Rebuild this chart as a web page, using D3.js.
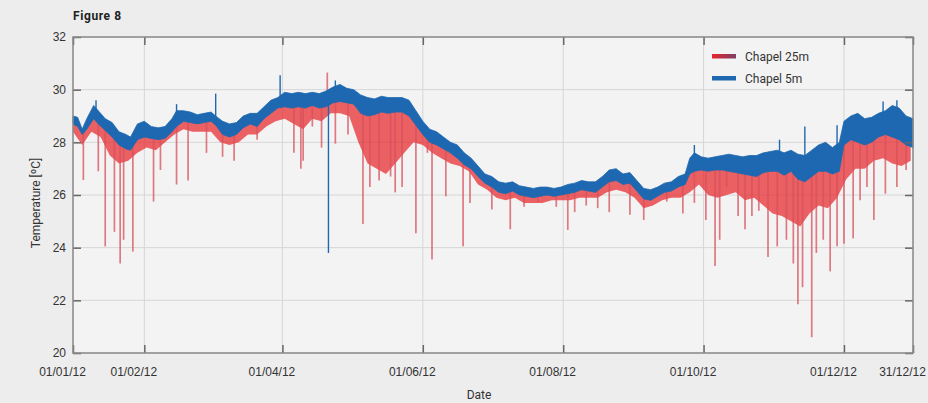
<!DOCTYPE html>
<html>
<head>
<meta charset="utf-8">
<script src="https://cdn.jsdelivr.net/npm/d3@7"></script>
<style>
  body { margin: 0; background: #ededed; font-family: Roboto, "Noto Sans", sans-serif; }
  svg text { fill: #333; }
</style>
</head>
<body>
<div id="chart"></div>
<script>
// ── Data (day = days since 01/01/12) ──

const xTickDays = [0, 31, 91, 152, 213, 274, 335, 365];
const xTickLabels = ["01/01/12", "01/02/12", "01/04/12", "01/06/12", "01/08/12", "01/10/12", "01/12/12", "31/12/12"];
const yTicks = [20, 22, 24, 26, 28, 30, 32];
const seriesNames = ["Chapel 25m", "Chapel 5m"];

// Chapel 5m: band of the dense trace (low / high edge)
const days5 = [0, 2, 4, 6, 9, 11, 14, 17, 20, 23, 25, 28, 31, 34, 37, 40, 43, 45, 48, 51, 54, 57, 60, 62, 65, 68, 71, 74, 77, 80,
  83, 86, 89, 92, 95, 98, 101, 104, 107, 110, 113, 116, 119, 122, 125, 128, 131, 134, 137, 140, 143, 146, 149, 152, 155, 158,
  161, 164, 167, 170, 173, 176, 179, 182, 185, 188, 191, 194, 197, 200, 203, 206, 209, 212, 215, 218, 221, 224, 227, 230, 233,
  236, 239, 242, 245, 248, 251, 254, 257, 260, 263, 266, 268, 270, 273, 276, 279, 282, 285, 288, 291, 294, 297, 300, 303, 306,
  309, 312, 315, 318, 321, 324, 327, 330, 333, 335, 338, 341, 344, 347, 350, 353, 356, 359, 362, 365];
const chapel5Lo = [28.7, 28.6, 28.3, 28.5, 28.9, 28.7, 28.45, 28.2, 27.9, 27.75, 27.7, 28.1, 28.2, 28.15, 28.1, 28.15, 28.4, 28.6,
  28.8, 28.75, 28.7, 28.75, 28.8, 28.65, 28.3, 28.2, 28.3, 28.55, 28.7, 28.6, 28.9, 29.1, 29.3, 29.35, 29.3, 29.35, 29.3, 29.4,
  29.3, 29.35, 29.5, 29.55, 29.5, 29.45, 29.1, 29.0, 29.05, 29.15, 29.1, 29.15, 29.15, 29.0, 28.65, 28.3, 28.0, 27.9, 27.75, 27.6,
  27.4, 27.15, 27.0, 26.7, 26.45, 26.3, 26.1, 26.05, 26.15, 26.0, 25.95, 25.9, 25.95, 26.0, 25.95, 26.0, 26.05, 26.1, 26.2,
  26.15, 26.1, 26.3, 26.5, 26.55, 26.4, 26.45, 26.15, 25.85, 25.8, 25.95, 26.1, 26.15, 26.3, 26.4, 26.8, 26.9, 26.95, 26.9,
  26.95, 26.95, 26.9, 26.85, 26.8, 26.75, 26.7, 26.85, 26.9, 26.9, 26.75, 26.9, 26.6, 26.5, 26.7, 26.9, 26.9, 26.8, 26.9, 27.9,
  28.1, 28.0, 27.9, 28.0, 28.2, 28.3, 28.2, 28.1, 27.9, 27.8];
const chapel5Hi = [29.0, 28.95, 28.5, 28.9, 29.4, 29.2, 28.9, 28.75, 28.4, 28.3, 28.2, 28.7, 28.8, 28.6, 28.55, 28.6, 28.9, 29.2,
  29.2, 29.15, 29.05, 29.1, 29.15, 29.0, 28.8, 28.7, 28.75, 29.0, 29.1, 29.1, 29.35, 29.6, 29.7, 29.9, 29.85, 29.9, 29.85, 29.9,
  29.85, 29.95, 30.1, 30.2, 30.05, 30.0, 29.8, 29.7, 29.65, 29.75, 29.7, 29.7, 29.7, 29.6, 29.2, 28.8, 28.5, 28.4, 28.2, 28.0,
  27.9, 27.6, 27.4, 27.1, 26.8, 26.7, 26.5, 26.45, 26.5, 26.35, 26.3, 26.25, 26.3, 26.3, 26.25, 26.3, 26.4, 26.45, 26.55, 26.5,
  26.5, 26.7, 26.95, 27.0, 26.8, 26.85, 26.55, 26.25, 26.2, 26.3, 26.45, 26.5, 26.7, 26.8, 27.4, 27.6, 27.45, 27.4, 27.45, 27.5,
  27.55, 27.5, 27.45, 27.5, 27.5, 27.6, 27.65, 27.7, 27.6, 27.7, 27.55, 27.5, 27.7, 27.9, 28.0, 27.8, 28.0, 28.8, 29.0, 29.1,
  28.9, 28.95, 29.1, 29.2, 29.4, 29.3, 29.0, 28.9];

// Chapel 5m: isolated excursions
const spike5Days = [10, 45, 62, 90, 111, 114, 270, 307, 318, 332, 352, 358];
const spike5Vals = [29.6, 29.45, 29.85, 30.55, 23.8, 30.35, 27.9, 28.1, 28.6, 28.65, 29.55, 29.6];

// Chapel 25m: lower edge of the dense trace
const days25 = [0, 4, 8, 12, 16, 20, 24, 28, 32, 36, 40, 44, 48, 52, 56, 60, 64, 68, 72, 76, 80, 84, 88, 92, 96, 100, 104, 108,
  112, 116, 120, 124, 128, 132, 136, 140, 144, 148, 152, 156, 160, 164, 168, 172, 176, 180, 184, 188, 192, 196, 200, 204, 208,
  212, 216, 220, 224, 228, 232, 236, 240, 244, 248, 252, 256, 260, 264, 268, 272, 276, 280, 284, 288, 292, 296, 300, 304, 308,
  312, 316, 320, 324, 328, 332, 336, 340, 344, 348, 352, 356, 360, 364];
const chapel25Lo = [28.4, 27.9, 28.4, 28.2, 27.5, 27.2, 27.3, 27.6, 27.8, 27.7, 28.0, 28.3, 28.5, 28.4, 28.4, 28.4, 28.0, 27.9,
  28.0, 28.3, 28.3, 28.6, 28.8, 28.9, 28.7, 28.5, 28.9, 28.8, 29.1, 29.1, 29.0, 28.0, 27.2, 27.0, 26.8, 27.2, 27.6, 28.0, 27.9,
  27.6, 27.4, 27.2, 27.1, 26.9, 26.4, 26.2, 25.9, 25.8, 25.9, 25.7, 25.7, 25.7, 25.8, 25.8, 25.8, 25.9, 25.9, 25.9, 26.1, 26.2,
  26.1, 25.9, 25.5, 25.6, 25.8, 25.9, 25.9, 26.1, 26.4, 26.0, 25.9, 26.0, 26.1, 25.8, 25.9, 25.6, 25.3, 25.2, 25.0, 24.8, 25.3,
  25.6, 25.5, 25.9, 26.6, 27.0, 27.0, 27.3, 27.4, 27.2, 27.1, 27.3];

// Chapel 25m: downward spikes (and one upward)
const spike25Days = [4.5, 11, 14, 18, 20.5, 22, 26, 35, 38, 45, 50, 58, 65, 70, 80, 96, 99, 100, 104, 108, 110.5, 114, 119.5,
  126, 129, 133, 138, 140, 143, 149, 154, 156, 162, 169.5, 172.5, 182, 190, 196, 202, 210, 215, 218, 223, 228, 233, 242, 248,
  258, 265, 270, 275, 279, 281, 284, 289, 292, 295, 298, 302, 306, 310, 313, 315, 317, 321, 323, 326, 329, 332, 335, 339, 342,
  345, 348, 353, 358, 362];
const spike25Vals = [26.57, 26.9, 24.05, 24.6, 23.4, 24.3, 23.85, 25.75, 26.95, 26.4, 26.55, 27.6, 27.45, 27.3, 28.1, 27.6, 27.0,
  27.3, 28.6, 27.8, 30.65, 27.95, 28.3, 24.9, 26.3, 26.55, 26.7, 26.1, 26.3, 24.55, 27.6, 23.55, 25.95, 24.05, 25.7, 25.45, 24.7,
  25.55, 25.75, 25.55, 24.67, 25.35, 25.6, 25.5, 25.35, 25.25, 25.05, 25.75, 25.3, 25.7, 25.05, 23.3, 24.3, 26.3, 25.2, 24.7,
  25.2, 25.4, 23.65, 24.05, 24.3, 23.4, 21.85, 22.5, 20.6, 23.8, 24.3, 23.1, 24.05, 24.15, 24.35, 25.8, 26.3, 25.05, 26.05, 26.3,
  26.95];

// ── Chart ──

const W = 928, H = 403;
const M = { t: 37, r: 15, b: 50, l: 73 };
const w = W - M.l - M.r;
const h = H - M.t - M.b;

const C = { red: "#e8272b", spike: "#d8505b", blue: "#1d68b0", grid: "#d6d6d6", frame: "#8a8a8a" };

const t0 = Date.UTC(2012, 0, 1);
const toDate = (d) => new Date(t0 + d * 864e5);

const svg = d3.select("#chart").append("svg").attr("width", W).attr("height", H);

const x = d3.scaleUtc().domain([toDate(0), toDate(365)]).range([0, w]);
const y = d3.scaleLinear().domain([20, 32]).range([h, 0]);

// interpolate a band value at any day
function valAt(days, vals, d) {
  const i = d3.bisectLeft(days, d);
  if (i <= 0) return vals[0];
  if (i >= days.length) return vals[vals.length - 1];
  const t = (d - days[i - 1]) / (days[i] - days[i - 1]);
  return vals[i - 1] + t * (vals[i] - vals[i - 1]);
}
const mid5 = (d) => (valAt(days5, chapel5Lo, d) + valAt(days5, chapel5Hi, d)) / 2;

svg.append("text")
  .attr("x", M.l).attr("y", 20)
  .style("font-size", "12px").style("font-weight", 700).style("letter-spacing", "0.6px")
  .style("fill", "#222")
  .text("Figure 8");

const g = svg.append("g").attr("transform", `translate(${M.l},${M.t})`);

g.append("rect").attr("width", w).attr("height", h).attr("fill", "#f3f3f3");

// ── Grid ──
g.append("g").selectAll("line").data(yTicks).join("line")
  .attr("x1", 0).attr("x2", w)
  .attr("y1", (d) => y(d)).attr("y2", (d) => y(d))
  .attr("stroke", C.grid);
g.append("g").selectAll("line").data(xTickDays).join("line")
  .attr("x1", (d) => x(toDate(d))).attr("x2", (d) => x(toDate(d)))
  .attr("y1", 0).attr("y2", h)
  .attr("stroke", C.grid);

const plot = g.append("g");

// ── Chapel 25m ──
plot.append("path")
  .datum(days25)
  .attr("fill", C.red).attr("opacity", 0.72)
  .attr("d", d3.area()
    .x((d) => x(toDate(d)))
    .y0((d, i) => y(chapel25Lo[i]))
    .y1((d) => y(mid5(d))));

plot.append("g").selectAll("line").data(spike25Days).join("line")
  .attr("x1", (d) => x(toDate(d))).attr("x2", (d) => x(toDate(d)))
  .attr("y1", (d) => y(mid5(d)))
  .attr("y2", (d, i) => y(spike25Vals[i]))
  .attr("stroke", C.spike).attr("stroke-width", 1.7).attr("opacity", 0.75);

// ── Chapel 5m ──
plot.append("path")
  .datum(days5)
  .attr("fill", C.blue).attr("stroke", C.blue).attr("stroke-width", 0.8)
  .attr("d", d3.area()
    .x((d) => x(toDate(d)))
    .y0((d, i) => y(chapel5Lo[i]))
    .y1((d, i) => y(chapel5Hi[i])));

plot.append("g").selectAll("line").data(spike5Days).join("line")
  .attr("x1", (d) => x(toDate(d))).attr("x2", (d) => x(toDate(d)))
  .attr("y1", (d) => y(mid5(d)))
  .attr("y2", (d, i) => y(spike5Vals[i]))
  .attr("stroke", C.blue).attr("stroke-width", 1.4);

// ── Axes (ticks inward, MATLAB style) ──
function styleAxis(sel) {
  sel.select(".domain").remove();
  sel.selectAll(".tick line").attr("stroke", "#666").attr("stroke-width", 1.5);
  sel.selectAll("text").style("font-size", "12px").style("fill", "#333");
}

const xVals = xTickDays.map(toDate);

g.append("g").attr("transform", `translate(0,${h})`)
  .call(d3.axisBottom(x).tickValues(xVals).tickFormat((d, i) => xTickLabels[i])
    .tickSizeInner(-8).tickSizeOuter(0).tickPadding(14))
  .call(styleAxis)
  .selectAll("text").attr("dx", -11);

g.append("g")
  .call(d3.axisTop(x).tickValues(xVals).tickFormat("").tickSizeInner(-8).tickSizeOuter(0))
  .call(styleAxis);

g.append("g")
  .call(d3.axisLeft(y).tickValues(yTicks).tickSizeInner(-8).tickSizeOuter(0).tickPadding(7))
  .call(styleAxis);

g.append("g").attr("transform", `translate(${w},0)`)
  .call(d3.axisRight(y).tickValues(yTicks).tickFormat("").tickSizeInner(-8).tickSizeOuter(0))
  .call(styleAxis);

g.append("rect").attr("width", w).attr("height", h)
  .attr("fill", "none").attr("stroke", C.frame).attr("stroke-width", 1.5);

// ── Axis titles ──
svg.append("text")
  .attr("transform", `translate(40,${M.t + h / 2 + 8}) rotate(-90)`)
  .attr("text-anchor", "middle")
  .style("font-size", "12px")
  .text("Temperature [ºC]");

svg.append("text")
  .attr("x", 479).attr("y", 399)
  .attr("text-anchor", "middle")
  .style("font-size", "12px")
  .text("Date");

// ── Legend ──
const defs = svg.append("defs");
const grad = defs.append("linearGradient").attr("id", "redSwatch");
grad.append("stop").attr("offset", "0%").attr("stop-color", "#e8262b");
grad.append("stop").attr("offset", "100%").attr("stop-color", "#7d3f66");

const legend = svg.append("g").attr("transform", "translate(712,56)");
const swatchFill = ["url(#redSwatch)", C.blue];
seriesNames.forEach((name, i) => {
  const row = legend.append("g").attr("transform", `translate(0,${i * 22})`);
  row.append("rect").attr("x", 0).attr("y", -2).attr("width", 24).attr("height", 4.5).attr("fill", swatchFill[i]);
  row.append("text").attr("x", 33).attr("y", 4.5).style("font-size", "12px").text(name);
});
</script>
</body>
</html>
